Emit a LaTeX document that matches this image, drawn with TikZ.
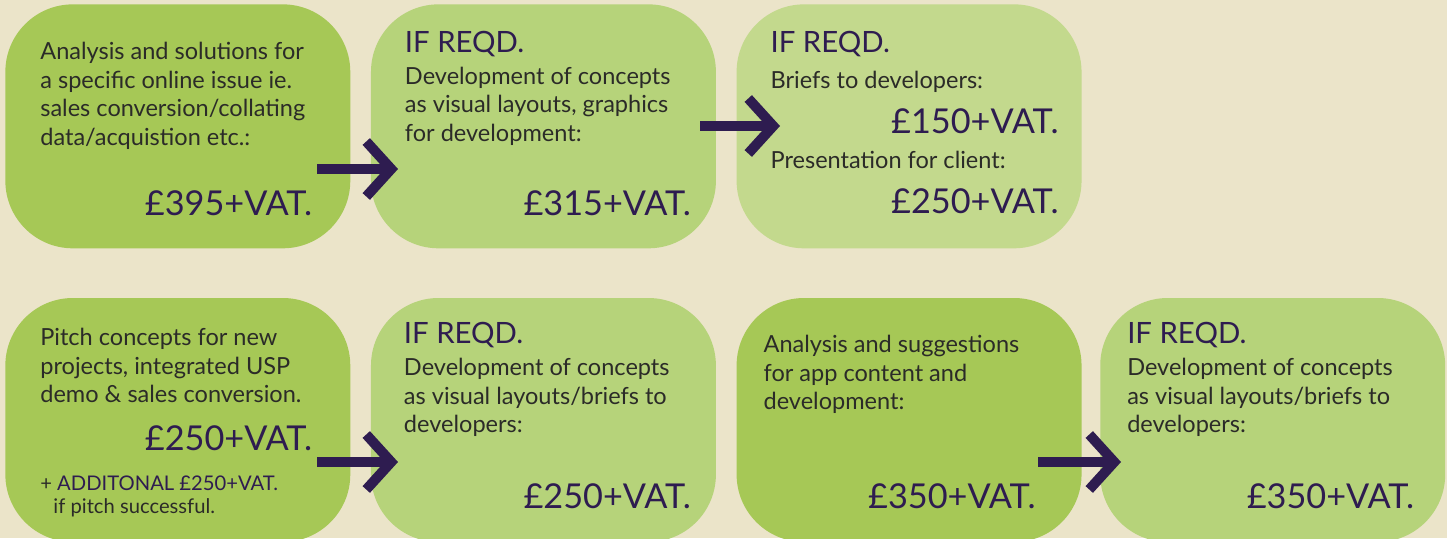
\documentclass[tikz,border=0pt]{standalone}
\usepackage{fontspec}
\setmainfont{Lato}
\usepackage{xcolor}
\usetikzlibrary{arrows.meta,positioning}
\definecolor{bgcream}{HTML}{EBE4C9}
\definecolor{gdark}{HTML}{A6C856}
\definecolor{gmid}{HTML}{B6D37A}
\definecolor{glight}{HTML}{C3D98D}
\definecolor{ink}{HTML}{2B2B28}
\definecolor{plum}{HTML}{2E1C50}
\begin{document}
\begin{tikzpicture}[
  x=0.02cm, y=-0.02cm,
  every node/.style={inner sep=0pt},
  card/.style={rounded corners=1.35cm, minimum width=6.9cm, minimum height=4.88cm, anchor=north west},
  txt/.style={anchor=base west, align=left, text=ink, font=\fontsize{13.4}{16.2}\selectfont},
  reqd/.style={anchor=base west, text=plum, font=\fontsize{16.7}{18}\selectfont},
  price/.style={anchor=base east, text=plum, font=\fontsize{19.5}{22}\selectfont},
  flow/.style={draw=plum, line width=0.2cm, -{Straight Barb[length=0.5cm, width=1.1cm]}}
]
\useasboundingbox[fill=bgcream] (0,0) rectangle (1447,538);

\node[card, fill=gdark] (analysis) at (5,4) {};
\node[card, fill=gmid, right=0.4cm of analysis] (concepts) {};
\node[card, fill=glight, right=0.4cm of concepts] (briefs) {};
\node[card, fill=gdark, below=0.98cm of analysis] (pitch) {};
\node[card, fill=gmid, right=0.4cm of pitch] (pitchdev) {};
\node[card, fill=gdark, right=0.4cm of pitchdev] (app) {};
\node[card, fill=gmid, right=0.36cm of app] (appdev) {};

\node[txt] (analysis-t) at ([shift={(35,141)}]analysis.north west)
  {Analysis and solutions for\\a specific online issue ie.\\sales conversion/collating\\data/acquistion etc.:};
\node[price] (analysis-p) at ([shift={(-38,211)}]analysis.north east) {£395+VAT.};

\node[reqd] (concepts-r) at ([shift={(34,48)}]concepts.north west) {IF REQD.};
\node[txt] (concepts-t) at ([shift={(34,137)}]concepts.north west)
  {Development of concepts\\as visual layouts, graphics\\for development:};
\node[price] (concepts-p) at ([shift={(-25,211)}]concepts.north east) {£315+VAT.};

\node[reqd] (briefs-r) at ([shift={(34,48)}]briefs.north west) {IF REQD.};
\node[txt] (briefs-t) at ([shift={(34,84)}]briefs.north west) {Briefs to developers:};
\node[price] (briefs-p) at ([shift={(-23,129)}]briefs.north east) {£150+VAT.};
\node[txt] (client-t) at ([shift={(34,164)}]briefs.north west) {Presentation for client:};
\node[price] (client-p) at ([shift={(-23,209)}]briefs.north east) {£250+VAT.};

\node[txt] (pitch-t) at ([shift={(35,105)}]pitch.north west)
  {Pitch concepts for new\\projects, integrated USP\\demo \& sales conversion.};
\node[price] (pitch-p) at ([shift={(-38,153)}]pitch.north east) {£250+VAT.};
\node[txt, font=\fontsize{11.5}{13}\selectfont] (pitch-n) at ([shift={(35,216)}]pitch.north west)
  {+ \textcolor{plum}{ADDITONAL £250+VAT.}\\\hspace*{0.65em}if pitch successful.};

\node[reqd] (pitchdev-r) at ([shift={(33,46)}]pitchdev.north west) {IF REQD.};
\node[txt] (pitchdev-t) at ([shift={(33,135)}]pitchdev.north west)
  {Development of concepts\\as visual layouts/briefs to\\developers:};
\node[price] (pitchdev-p) at ([shift={(-25,211)}]pitchdev.north east) {£250+VAT.};

\node[txt] (app-t) at ([shift={(27,112)}]app.north west)
  {Analysis and suggestions\\for app content and\\development:};
\node[price] (app-p) at ([shift={(-46,211)}]app.north east) {£350+VAT.};

\node[reqd] (appdev-r) at ([shift={(27,46)}]appdev.north west) {IF REQD.};
\node[txt] (appdev-t) at ([shift={(27,135)}]appdev.north west)
  {Development of concepts\\as visual layouts/briefs to\\developers:};
\node[price] (appdev-p) at ([shift={(-31,211)}]appdev.north east) {£350+VAT.};

\coordinate (a1s) at (317,169);
\coordinate (a1e) at (398,169);
\coordinate (a2s) at (700,126);
\coordinate (a2e) at (780,126);
\coordinate (a3s) at (317,462);
\coordinate (a3e) at (398,462);
\coordinate (a4s) at (1038,462);
\coordinate (a4e) at (1121,462);
\draw[flow] (a1s) -- (a1e);
\draw[flow] (a2s) -- (a2e);
\draw[flow] (a3s) -- (a3e);
\draw[flow] (a4s) -- (a4e);

\end{tikzpicture}
\end{document}
